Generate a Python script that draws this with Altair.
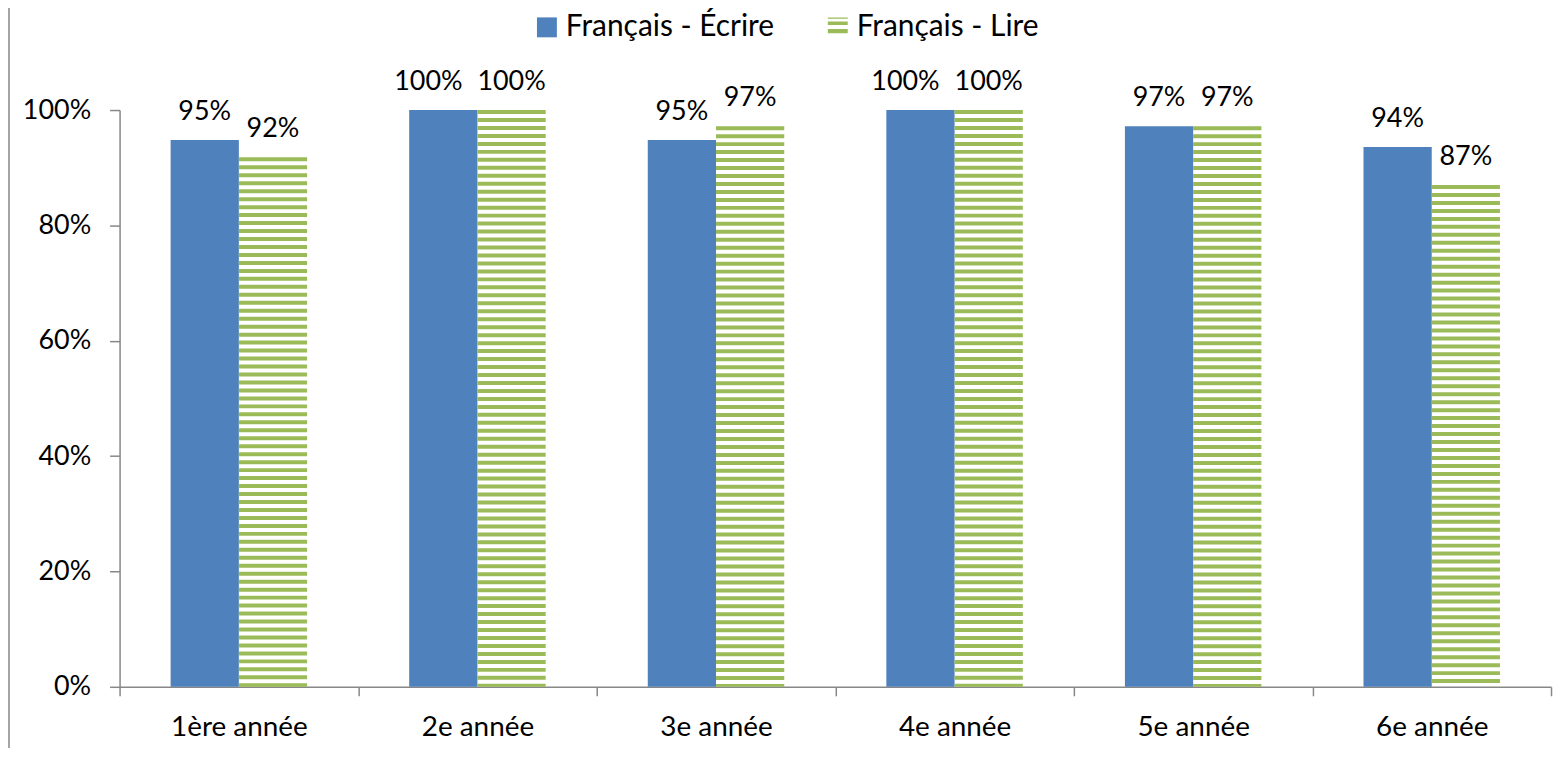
import altair as alt
import pandas as pd

categories = ["1ère année", "2e année", "3e année", "4e année", "5e année", "6e année"]
series = ["Français - Écrire", "Français - Lire"]
ecrire = [0.948, 1.0, 0.948, 1.0, 0.972, 0.936]
lire = [0.918, 1.0, 0.972, 1.0, 0.972, 0.870]
y_ticks = [0, 0.2, 0.4, 0.6, 0.8, 1.0]

BLUE = "#4F81BD"
GREEN = "#9BBB59"
GRAY = "#878787"
FONT = "Lato"

W, H = 1437, 579

rows = []
for c, e, l in zip(categories, ecrire, lire):
    rows.append({"cat": c, "series": series[0], "value": e})
    rows.append({"cat": c, "series": series[1], "value": l})
df = pd.DataFrame(rows)

# horizontal stripe pattern for the "Lire" bars (8px period, 4px stripes)
period = 8 / H
stripes = []
for c, l in zip(categories, lire):
    top = l
    while top > period * 0.25:
        bottom = max(top - period / 2, 0)
        stripes.append({"cat": c, "series": series[1], "y1": top, "y2": bottom})
        top -= period
sdf = pd.DataFrame(stripes)

STRIPE_PATH = "M-1,-1H1V-0.87H-1Z M-1,-0.6H1V-0.24H-1Z M-1,0.16H1V0.6H-1Z"

x_enc = alt.X(
    "cat:N",
    sort=categories,
    scale=alt.Scale(domain=categories, paddingInner=0, paddingOuter=0),
    axis=alt.Axis(
        title=None, labelAngle=0, tickBand="extent", tickSize=9, tickWidth=1.5,
        tickColor=GRAY, domainColor=GRAY, domainWidth=1.5,
        labelFont=FONT, labelFontSize=28, labelColor="black",
        labelBaseline="alphabetic", labelPadding=40, labelFlush=False,
    ),
)
xoff = alt.XOffset("series:N", scale=alt.Scale(domain=series, paddingInner=0, paddingOuter=0.748))
y_scale = alt.Scale(domain=[0, 1], nice=False, zero=True)

bars = alt.Chart(df).transform_filter(alt.datum.series == series[0]).mark_bar(color=BLUE).encode(
    x=x_enc,
    xOffset=xoff,
    y=alt.Y(
        "value:Q", scale=y_scale,
        axis=alt.Axis(
            title=None, values=y_ticks, format=".0%", grid=False,
            tickSize=10, tickWidth=1.5, tickColor=GRAY, domainColor=GRAY, domainWidth=1.5,
            labelFont=FONT, labelFontSize=27, labelColor="black", labelPadding=19,
        ),
    ),
)

stripe_layer = alt.Chart(sdf).mark_bar(color=GREEN).encode(
    x=alt.X("cat:N", sort=categories),
    xOffset=alt.XOffset("series:N"),
    y=alt.Y("y1:Q"),
    y2="y2:Q",
)

label_enc = dict(
    x=alt.X("cat:N", sort=categories),
    xOffset=alt.XOffset("series:N"),
    y=alt.Y("value:Q"),
    text=alt.Text("value:Q", format=".0%"),
)
label_style = dict(font=FONT, fontSize=27, baseline="alphabetic", dy=-20, color="black")

# labels that do not collide with their neighbour
labels = alt.Chart(df).transform_filter(
    (alt.datum.series != series[0]) | (alt.datum.value < 0.995)
).mark_text(**label_style).encode(**label_enc)

# "100%" labels of the first series are nudged left to avoid overlapping (as Excel does)
labels_nudged = alt.Chart(df).transform_filter(
    (alt.datum.series == series[0]) & (alt.datum.value >= 0.995)
).mark_text(dx=-15, **label_style).encode(**label_enc)

legend = alt.Legend(
    title=None, orient="none", legendX=414, legendY=-98, direction="horizontal",
    labelFont=FONT, labelFontSize=30, labelColor="black", labelLimit=0,
    symbolSize=400, symbolOpacity=1, symbolStrokeWidth=0, labelOffset=4,
    columnPadding=48, padding=0,
)

legend_layer = alt.Chart(df).mark_point(filled=True, opacity=0).encode(
    x=alt.X("cat:N", sort=categories),
    xOffset=alt.XOffset("series:N"),
    y=alt.Y("value:Q"),
    color=alt.Color("series:N", scale=alt.Scale(domain=series, range=[BLUE, GREEN]), legend=legend),
    shape=alt.Shape("series:N", scale=alt.Scale(domain=series, range=["square", STRIPE_PATH]), legend=legend),
)

frame = alt.Chart(pd.DataFrame({"a": [0]})).mark_rule(color=GRAY, strokeWidth=1.5).encode(
    x=alt.value(-111), y=alt.value(-120), y2=alt.value(700)
)

chart = alt.layer(bars, stripe_layer, labels, labels_nudged, legend_layer, frame).properties(
    width=W, height=H,
    autosize=alt.AutoSizeParams(type="none"),
    padding={"left": 112, "top": 101, "right": 5, "bottom": 60},
    background="white",
).configure_view(stroke=None)

chart.save("out.html", embed_options={"renderer": "svg", "actions": False})
